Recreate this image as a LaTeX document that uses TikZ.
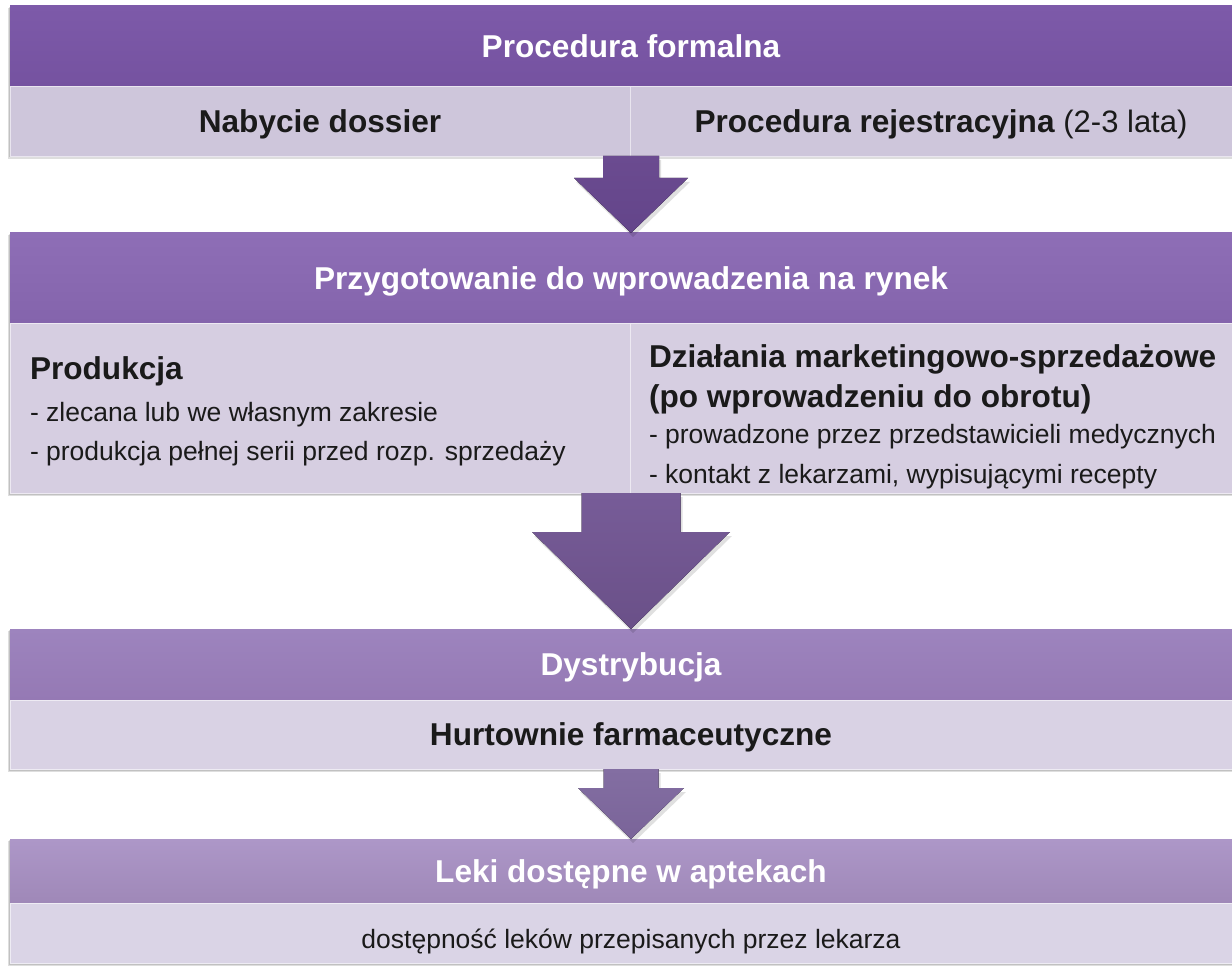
\documentclass[tikz,border=0pt]{standalone}
\usepackage{fontspec}
\setmainfont{Liberation Sans}
\usetikzlibrary{calc}
\definecolor{hAt}{HTML}{7D5AA9}\definecolor{hAb}{HTML}{7552A0}
\definecolor{sA}{HTML}{CEC6DB}
\definecolor{hBt}{HTML}{8E6EB6}\definecolor{hBb}{HTML}{8464AC}
\definecolor{sB}{HTML}{D6CEE1}
\definecolor{hCt}{HTML}{9D84BE}\definecolor{hCb}{HTML}{9579B4}
\definecolor{sC}{HTML}{D9D2E4}
\definecolor{hDt}{HTML}{AD97C8}\definecolor{hDb}{HTML}{9F88B8}
\definecolor{sD}{HTML}{DAD4E6}
\definecolor{aAt}{HTML}{6B4B90}\definecolor{aAb}{HTML}{63458A}
\definecolor{aBt}{HTML}{775C98}\definecolor{aBb}{HTML}{6A5088}
\definecolor{aCt}{HTML}{836EA2}\definecolor{aCb}{HTML}{7A6499}
\definecolor{ink}{HTML}{1A1A1A}
\newcommand\fbold{\fontsize{31.6pt}{38pt}\selectfont\bfseries}
\newcommand\freg{\fontsize{26.5pt}{32pt}\selectfont\mdseries}
\newcommand\fregbig{\fontsize{31pt}{38pt}\selectfont\mdseries}
\def\arox{0}\def\aroy{0}
\newcommand\blockarr[6]{%
  \fill[#6] ($(#1)+(-#3,0)+(\arox,\aroy)$) -- ($(#1)+(#3,0)+(\arox,\aroy)$)
   -- ($(#1)+(#3,#4)+(\arox,\aroy)$) -- ($(#1)+(#5,#4)+(\arox,\aroy)$)
   -- ($(#2)+(\arox,\aroy)$) -- ($(#1)+(-#5,#4)+(\arox,\aroy)$)
   -- ($(#1)+(-#3,#4)+(\arox,\aroy)$) -- cycle;}
\begin{document}
\begin{tikzpicture}[x=1pt,y=-1pt,
  box/.style={rectangle, inner sep=0pt, outer sep=0pt},
  hdr/.style={box, minimum width=1242pt, text=white, font=\fbold, text height=22.6pt, text depth=0pt},
  cell/.style={box, text=ink, font=\fbold, text height=22.6pt, text depth=0pt,
    draw=white!55!#1, line width=0.8pt, fill=#1},
  txt/.style={inner sep=0pt, outer sep=0pt, text=ink},
  blockshadow/.style={fill=black, opacity=0.13},
  arrshadow/.style={fill=black, opacity=0.12}
]
\useasboundingbox (0,0) rectangle (1232,968);
\clip (0,0) rectangle (1232,968);

% ---- block 1
\fill[blockshadow] (8,8) rectangle (1252,159);
\fill[blockshadow] (9,7) rectangle (1252,157.5);
\node[hdr, top color=hAt, bottom color=hAb, minimum height=80pt] (h1) at (631,46) {Procedura formalna};
\node[cell=sA, minimum width=620pt, minimum height=70pt] (s1l) at (320,121) {Nabycie dossier};
\node[cell=sA, minimum width=622pt, minimum height=70pt] (s1r) at (941,121) {Procedura rejestracyjna {\fregbig(2-3 lata)}};

% ---- block 2
\fill[blockshadow] (8,235) rectangle (1252,496);
\fill[blockshadow] (9,234) rectangle (1252,494.5);
\node[hdr, top color=hBt, bottom color=hBb, minimum height=90pt] (h2) at (631,278) {Przygotowanie do wprowadzenia na rynek};
\node[cell=sB, minimum width=620pt, minimum height=170pt] (s2l) at (320,408) {};
\node[cell=sB, minimum width=622pt, minimum height=170pt] (s2r) at (941,408) {};
\node[txt, font=\fbold, anchor=base west] (p1) at (30,380) {Produkcja};
\node[txt, font=\freg, anchor=base west] (p2) at (30,421) {- zlecana lub we własnym zakresie};
\node[txt, font=\freg, anchor=base west] (p3) at (30,460) {- produkcja pełnej serii przed rozp. sprzedaży};
\node[txt, font=\fbold, anchor=base west] (m1) at (649,367) {Działania marketingowo-sprzedażowe};
\node[txt, font=\fbold, anchor=base west] (m2) at (649,407) {(po wprowadzeniu do obrotu)};
\node[txt, font=\freg, anchor=base west] (m3) at (649,443) {- prowadzone przez przedstawicieli medycznych};
\node[txt, font=\freg, anchor=base west] (m4) at (649,483) {- kontakt z lekarzami, wypisującymi recepty};

% ---- block 3
\fill[blockshadow] (8,631) rectangle (1252,772);
\fill[blockshadow] (9,630) rectangle (1252,770.5);
\node[hdr, top color=hCt, bottom color=hCb, minimum height=71pt] (h3) at (631,664.5) {Dystrybucja};
\node[cell=sC, minimum width=1242pt, minimum height=69pt] (s3) at (631,734.5) {Hurtownie farmaceutyczne};

% ---- block 4
\fill[blockshadow] (8,841) rectangle (1252,966);
\fill[blockshadow] (9,840) rectangle (1252,964.5);
\node[hdr, top color=hDt, bottom color=hDb, minimum height=64pt] (h4) at (631,871) {Leki dostępne w aptekach};
\node[cell=sD, minimum width=1242pt, minimum height=60pt] (s4) at (631,933) {};
\node[txt, font=\freg, anchor=base] (d1) at (631,948) {dostępność leków przepisanych przez lekarza};

% ---- block arrows
\coordinate (a1s) at (h1.center |- s1l.south);
\coordinate (a2s) at (h2.center |- s2l.south);
\coordinate (a3s) at (h3.center |- s3.south);
\def\arox{2}\def\aroy{4}
\blockarr{a1s}{h2.north}{28}{22}{57}{arrshadow}
\blockarr{a2s}{h3.north}{49.5}{39}{99}{arrshadow}
\blockarr{a3s}{h4.north}{27.5}{19}{53}{arrshadow}
\def\arox{0}\def\aroy{0}
\blockarr{a1s}{h2.north}{28}{22}{57}{top color=aAt, bottom color=aAb}
\blockarr{a2s}{h3.north}{49.5}{39}{99}{top color=aBt, bottom color=aBb}
\blockarr{a3s}{h4.north}{27.5}{19}{53}{top color=aCt, bottom color=aCb}
\end{tikzpicture}
\end{document}
